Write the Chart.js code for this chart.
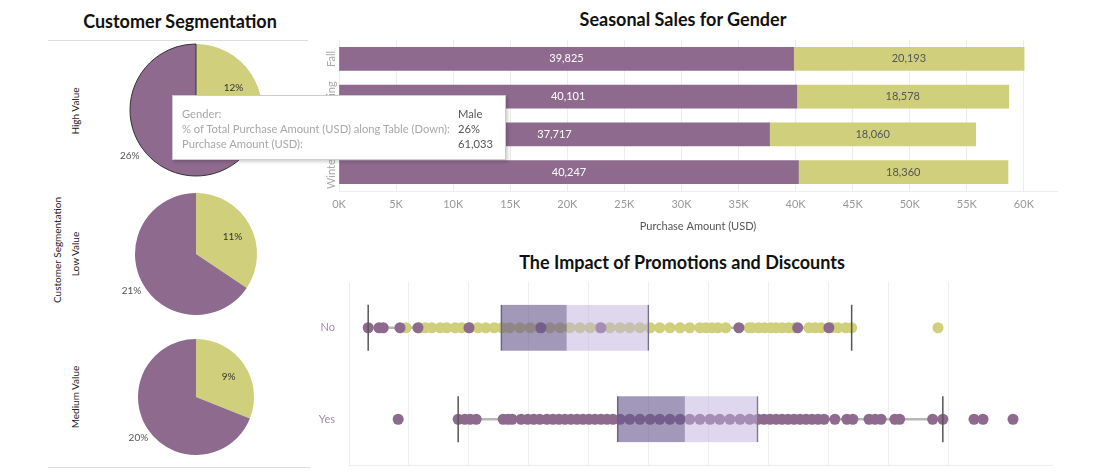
<!DOCTYPE html>
<html>
<head>
<meta charset="utf-8">
<script src="https://cdn.jsdelivr.net/npm/chart.js@4"></script>
<style>
body{margin:0;width:1100px;height:476px;background:#fff;position:relative;overflow:hidden;font-family:Lato,"Open Sans",sans-serif}
.abs{position:absolute}
.title{font-weight:bold;font-size:18px;line-height:22px;color:#111;text-align:center;white-space:nowrap}
.rot{font-size:10px;line-height:12px;color:#222;text-align:center;white-space:nowrap;transform:rotate(-90deg)}
.rule{height:1px;background:#ddd}
#tip{background:#fff;border:1px solid #ccc;box-shadow:2px 2px 3px rgba(0,0,0,0.18);font-size:11.2px;line-height:14px;z-index:5}
#tip span{position:absolute;white-space:nowrap}
#tip .k{color:#a8a8a8;left:9px}
#tip .v{color:#555;left:285px}
</style>
</head>
<body>
<div class="abs title" style="left:48px;top:10px;width:264px">Customer Segmentation</div>
<div class="abs rule" style="left:48px;top:40px;width:260px"></div>
<div class="abs rule" style="left:48px;top:467px;width:262px"></div>
<div class="abs rot" style="left:7px;top:247px;width:100px">Customer Segmentation</div>
<div class="abs title" style="left:483px;top:8px;width:400px">Seasonal Sales for Gender</div>
<div class="abs title" style="left:482px;top:251px;width:400px">The Impact of Promotions and Discounts</div>

<canvas id="pie0" class="abs" style="left:96px;top:40px"></canvas>
<canvas id="pie1" class="abs" style="left:96px;top:184px"></canvas>
<canvas id="pie2" class="abs" style="left:96px;top:327px"></canvas>
<canvas id="bars" class="abs" style="left:300px;top:30px"></canvas>
<canvas id="box" class="abs" style="left:300px;top:275px"></canvas>

<div id="tip" class="abs" style="left:172px;top:95px;width:332px;height:63px">
  <span class="k" style="top:11px">Gender:</span><span class="v" style="top:11px">Male</span>
  <span class="k" style="top:26px">% of Total Purchase Amount (USD) along Table (Down):</span><span class="v" style="top:26px">26%</span>
  <span class="k" style="top:41px">Purchase Amount (USD):</span><span class="v" style="top:41px">61,033</span>
</div>

<script>
// customer segmentation pies (% of total purchase amount)
const segments = ['High Value', 'Low Value', 'Medium Value'];
const femaleShare = [12, 11, 9];
const maleShare = [26, 21, 20];
const pieRadius = [66, 61, 58];
const segLabelY = [111, 254, 397];

// seasonal sales
const seasons = ['Fall', 'Spring', 'Summer', 'Winter'];
const maleSales = [39825, 40101, 37717, 40247];
const femaleSales = [20193, 18578, 18060, 18360];
const salesTicks = ['0K','5K','10K','15K','20K','25K','30K','35K','40K','45K','50K','55K','60K'];

// promotions box plot (values on an unlabeled axis)
const promoGroups = ['No', 'Yes'];
const whiskerLow = [3.2, 18.2];
const q1 = [25.3, 44.7];
const median = [36.3, 56];
const q3 = [50, 68.2];
const whiskerHigh = [83.8, 99];
const noMaleDots = [3.2, 5, 5.7, 8.5, 11.5, 20, 32, 42, 65, 74.8, 80];
const noFemaleDots = [9.5, 11.8, 12.7, 13.8, 15.2, 16.3, 17.7, 18.8, 20.2, 21.5, 22.8, 24.2, 25.5,
  26.8, 28.5, 30.2, 31.8, 33.5, 35.2, 36.8, 38.5, 40.2, 41.8, 43.5, 45.2, 46.8, 48.5, 50.2, 51.8,
  53.5, 55.2, 56.8, 58.5, 59.5, 60.5, 61.5, 62.8, 66.7, 67.2, 68.3, 69.3, 70.3, 71.2, 72.2, 73.3,
  74.3, 76.7, 77.7, 78.7, 80.5, 81.5, 82.8, 83.8, 98.2];
const yesMaleDots = [8.2, 18.2, 19.3, 20.2, 21.2, 25.7, 26.5, 27.2, 28.7, 29.8, 30.8, 31.8, 33, 34,
  35, 36, 37, 38, 39, 40, 41, 42, 43, 44, 45.2, 46.8, 48.5, 50.2, 51.8, 53.5, 55.2, 56.8, 58.5,
  60.2, 61.8, 63.5, 65.2, 66.8, 68.2, 69.2, 70.2, 71.2, 72.2, 73.2, 74.2, 75.2, 76.2, 77.2, 78.2,
  79.2, 81, 83, 84, 86.7, 87.7, 88.7, 91, 91.8, 97.3, 99, 104.2, 105.7, 110.7];

const purple = '#8e6a8e';
const yellow = '#d0d07c';

// row labels for the pies
segments.forEach((s, i) => {
  const d = document.createElement('div');
  d.className = 'abs rot';
  d.style.left = '25px'; d.style.width = '100px';
  d.style.top = (segLabelY[i] - 6) + 'px';
  d.textContent = s;
  document.body.appendChild(d);
});

const pieLabels = {
  id: 'pieLabels',
  afterDatasetsDraw(chart) {
    const ctx = chart.ctx;
    chart.getDatasetMeta(0).data.forEach((arc, i) => {
      const mid = (arc.startAngle + arc.endAngle) / 2;
      const r = i === 0 ? arc.outerRadius * 0.68 : arc.outerRadius * 1.2;
      ctx.save();
      ctx.font = '10px Lato';
      ctx.fillStyle = i === 0 ? '#333' : '#555';
      ctx.textAlign = 'center';
      ctx.textBaseline = 'middle';
      ctx.fillText(chart.data.datasets[0].data[i] + '%', arc.x + Math.cos(mid) * r, arc.y + Math.sin(mid) * r + 2);
      ctx.restore();
    });
  }
};

segments.forEach((s, i) => {
  const cv = document.getElementById('pie' + i);
  cv.width = 200; cv.height = 140;
  new Chart(cv, {
    type: 'pie',
    data: {
      labels: ['Female', 'Male'],
      datasets: [{
        data: [femaleShare[i], maleShare[i]],
        backgroundColor: [yellow, purple],
        borderColor: [yellow, '#333'],
        borderWidth: i === 0 ? [0, 1] : 0,
        radius: pieRadius[i]
      }]
    },
    options: {
      responsive: false,
      animation: false,
      plugins: { legend: { display: false }, tooltip: { enabled: false } }
    },
    plugins: [pieLabels]
  });
});

// seasonal sales stacked bars
const barValues = {
  id: 'barValues',
  afterDatasetsDraw(chart) {
    const ctx = chart.ctx;
    ctx.save();
    ctx.font = '11px Lato';
    ctx.textAlign = 'center';
    ctx.textBaseline = 'middle';
    chart.data.datasets.forEach((ds, di) => {
      ctx.fillStyle = di === 0 ? '#fff' : '#555';
      chart.getDatasetMeta(di).data.forEach((bar, i) => {
        ctx.fillText(ds.data[i].toLocaleString('en-US'), (bar.x + bar.base) / 2, bar.y);
      });
    });
    // rotated season labels
    const ys = chart.scales.y;
    ctx.fillStyle = '#aaa';
    ys.ticks.forEach((t, i) => {
      ctx.save();
      ctx.translate(chart.chartArea.left - 8, ys.getPixelForTick(i));
      ctx.rotate(-Math.PI / 2);
      ctx.fillText(seasons[i], 0, 0);
      ctx.restore();
    });
    ctx.restore();
  }
};

const bc = document.getElementById('bars');
bc.width = 775; bc.height = 215;
new Chart(bc, {
  type: 'bar',
  data: {
    labels: seasons,
    datasets: [
      { label: 'Male', data: maleSales, backgroundColor: purple, barThickness: 23 },
      { label: 'Female', data: femaleSales, backgroundColor: yellow, barThickness: 23 }
    ]
  },
  options: {
    indexAxis: 'y',
    responsive: false,
    animation: false,
    layout: { padding: { top: 10, right: 18, bottom: 0, left: 0 } },
    plugins: { legend: { display: false }, tooltip: { enabled: false } },
    scales: {
      x: {
        stacked: true, min: 0, max: 62900,
        afterBuildTicks: s => { s.ticks = salesTicks.map((t, i) => ({ value: i * 5000 })); },
        afterFit: s => { s.height = 54; },
        border: { color: '#eee' },
        grid: { drawTicks: false, color: '#ececec' },
        ticks: {
          autoSkip: false, maxRotation: 0, padding: 7, color: '#999', font: { size: 11, family: 'Lato' },
          callback: (v, i) => salesTicks[i]
        },
        title: { display: true, text: 'Purchase Amount (USD)', color: '#555', font: { size: 11, family: 'Lato' }, padding: { top: 4, bottom: 12 } }
      },
      y: {
        stacked: true,
        afterFit: s => { s.width = 39; },
        border: { display: false },
        grid: { display: false },
        ticks: { display: false }
      }
    }
  },
  plugins: [barValues]
});

// promotions box plot
const xc = document.getElementById('box');
xc.width = 770; xc.height = 200;
const pts = (arr, g) => arr.map(v => ({ x: v, y: g }));
const caps = [];
promoGroups.forEach((g, i) => { caps.push({ x: whiskerLow[i], y: g }, { x: whiskerHigh[i], y: g }); });

new Chart(xc, {
  type: 'bar',
  data: {
    labels: promoGroups,
    datasets: [
      { type: 'scatter', data: caps, pointStyle: 'line', rotation: 90, radius: 23, borderColor: '#555', borderWidth: 1.5, order: 0 },
      { indexAxis: 'y', data: promoGroups.map((g, i) => [q1[i], median[i]]), backgroundColor: 'rgba(100,85,140,0.6)',
        borderColor: '#6a6a78', borderWidth: { left: 1, right: 0, top: 0, bottom: 0 }, borderSkipped: false, barThickness: 46, grouped: false, order: 1 },
      { indexAxis: 'y', data: promoGroups.map((g, i) => [median[i], q3[i]]), backgroundColor: 'rgba(190,175,220,0.5)',
        borderColor: '#6a6a78', borderWidth: { left: 0, right: 1, top: 0, bottom: 0 }, borderSkipped: false, barThickness: 46, grouped: false, order: 1 },
      { type: 'scatter', data: pts(noMaleDots, 'No').concat(pts(yesMaleDots, 'Yes')), backgroundColor: purple, borderWidth: 0, radius: 5.5, order: 2 },
      { type: 'scatter', data: pts(noFemaleDots, 'No'), backgroundColor: yellow, borderWidth: 0, radius: 5.5, order: 3 },
      { indexAxis: 'y', data: promoGroups.map((g, i) => [whiskerLow[i], whiskerHigh[i]]), backgroundColor: '#b8b8b8',
        barThickness: 2, grouped: false, order: 5 }
    ]
  },
  options: {
    responsive: false,
    animation: false,
    layout: { autoPadding: false, padding: { top: 7, right: 18, bottom: 10, left: 0 } },
    plugins: { legend: { display: false }, tooltip: { enabled: false } },
    scales: {
      x: {
        type: 'linear', min: 0, max: 117.2, offset: false,
        afterFit: s => { s.height = 0; },
        border: { color: '#eee' },
        grid: { offset: false, drawTicks: false, color: c => c.tick && c.tick.value % 10 === 0 ? '#efefef' : 'transparent' },
        ticks: { display: false, stepSize: 10 }
      },
      y: {
        type: 'category', labels: promoGroups, offset: true,
        afterFit: s => { s.width = 49; s.paddingTop = 0; s.paddingBottom = 0; },
        border: { color: '#eee' },
        grid: { display: false },
        ticks: { padding: 6, color: '#a08fa0', font: { size: 11, family: 'Lato' } }
      }
    }
  }
});
</script>
</body>
</html>
